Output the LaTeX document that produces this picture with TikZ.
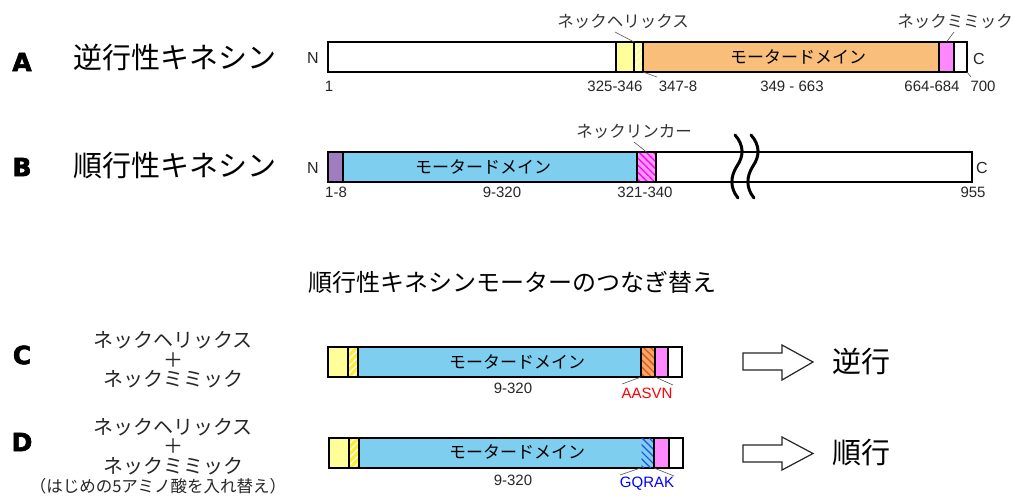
\documentclass[tikz,border=0pt]{standalone}
\usepackage{fontspec}
\setmainfont{Liberation Sans}
\newfontfamily\jp{Noto Sans CJK JP}
\newfontfamily\heavy[FakeBold=2.5]{DejaVu Sans}
\usetikzlibrary{patterns.meta}
\definecolor{cyel}{HTML}{FFFF99}
\definecolor{cyel2}{HTML}{FFEE33}
\definecolor{corange}{HTML}{F9BF7A}
\definecolor{corange2}{HTML}{F8A860}
\definecolor{cstripeo}{HTML}{E0502A}
\definecolor{cmag}{HTML}{FF88FF}
\definecolor{cmag2}{HTML}{FF99FF}
\definecolor{cblue}{HTML}{7ECEF0}
\definecolor{cstripeb}{HTML}{2050E0}
\definecolor{cpurple}{HTML}{A07CC0}
\definecolor{cleader}{HTML}{555555}
\tikzset{
  seg/.style={draw=black, line width=1.4pt, inner sep=0pt, outer sep=0pt, anchor=north west},
  hatched/.style n args={3}{fill=#1,
     postaction={pattern={Lines[angle=#3,distance=5pt,line width=1.3pt]}, pattern color=#2}},
  reborder/.style={postaction={draw=black, line width=1.4pt}},
  leader/.style={draw=cleader, line width=0.6pt},
  num/.style={font=\fontsize{15}{17}\selectfont, text=black!85, inner sep=0pt},
  endlab/.style={font=\fontsize{16}{18}\selectfont, text=black!85, inner sep=0pt},
  domtext/.style={font=\jp\fontsize{17}{19}\selectfont, inner sep=0pt},
  toplab/.style={font=\jp\fontsize{16.5}{18}\selectfont, text=black!80, inner sep=0pt},
  rowlab/.style={font=\heavy\bfseries\fontsize{25}{27}\selectfont, inner sep=0pt},
  rowtitle/.style={font=\jp\fontsize{29}{31}\selectfont, inner sep=0pt},
  sidelab/.style={font=\jp\fontsize{20}{22}\selectfont, text=black!85, inner sep=0pt},
  blockarrow/.style={draw=black!85, line width=1.2pt, fill=white, line join=miter},
  breakmark/.style={draw=black, line width=3pt, line cap=round}
}
% \mkseg{name}{x1}{x2}{y1}{y2}{style}
\newcommand\mkseg[6]{\node[seg, minimum width={(#3-#2)*1pt}, minimum height={(#5-#4)*1pt}, #6] (#1) at (#2,#4) {};}
\begin{document}
\begin{tikzpicture}[x=1pt,y=-1pt]
\useasboundingbox[fill=white] (0,0) rectangle (1014,496);

% ---------------- Row A ----------------
\node[rowlab] (labA) at (22,62) {A};
\node[rowtitle] (titA) at (175,58) {逆行性キネシン};
\mkseg{a0}{328}{616}{42}{72}{fill=white}
\mkseg{a1}{616}{634}{42}{72}{fill=cyel}
\mkseg{a2}{634}{643}{42}{72}{hatched={cyel}{white}{45}, reborder}
\mkseg{a3}{643}{939}{42}{72}{fill=corange}
\mkseg{a4}{939}{954}{42}{72}{fill=cmag}
\mkseg{a5}{954}{967}{42}{72}{fill=white}
\node[domtext] (domA) at (798,57) {モータードメイン};
\node[endlab] (nA) at (313,58) {N};
\node[endlab] (cA) at (979,59) {C};
\node[toplab] (nhA) at (623,21) {ネックヘリックス};
\node[toplab] (nmA) at (955,21) {ネックミミック};
\coordinate (nhAend) at (615,32);
\coordinate (nmAend) at (954,32);
\draw[leader] (nhAend) -- (a1.north east);
\draw[leader] (a4.north) -- (nmAend);
\node[num] (nA1) at (329,86) {1};
\node[num] (nA2) at (615,86) {325-346};
\node[num] (nA3) at (678,86) {347-8};
\node[num] (nA4) at (792,86) {349 - 663};
\node[num] (nA5) at (932,86) {664-684};
\node[num] (nA6) at (983,86) {700};
\coordinate (nA3end) at (657,77);
\coordinate (nA6end) at (971,77);
\draw[leader] (a2.south east) -- (nA3end);
\draw[leader] (a5.south east) -- (nA6end);

% ---------------- Row B ----------------
\node[rowlab] (labB) at (22,167) {B};
\node[rowtitle] (titB) at (175,166) {順行性キネシン};
\mkseg{b3}{656}{972}{152}{182}{fill=white}
\mkseg{b0}{328}{343}{152}{182}{fill=cpurple}
\mkseg{b1}{343}{637}{152}{182}{fill=cblue}
\mkseg{b2}{637}{656}{152}{182}{hatched={cmag2}{magenta}{-45}, reborder}
\node[domtext] (domB) at (483,167) {モータードメイン};
\node[endlab] (nB) at (313,168) {N};
\node[endlab] (cB) at (982,168) {C};
\node[toplab] (nlB) at (634,131) {ネックリンカー};
\coordinate (nlBend) at (634,142);
\draw[leader] (nlBend) -- (b2.north);
\node[num] (nB1) at (336,192) {1-8};
\node[num] (nB2) at (502,192) {9-320};
\node[num] (nB3) at (645,192) {321-340};
\node[num] (nB4) at (973,192) {955};
\draw[breakmark] (735,135) .. controls (744,145) and (744,156) .. (737,166)
                 .. controls (730,177) and (730,188) .. (738,198);
\draw[breakmark] (751,135) .. controls (760,145) and (760,156) .. (753,166)
                 .. controls (746,177) and (746,188) .. (754,198);

% ---------------- Title ----------------
\node[font=\jp\fontsize{24}{26}\selectfont, inner sep=0pt] (title) at (512,282) {順行性キネシンモーターのつなぎ替え};

% ---------------- Row C ----------------
\node[rowlab] (labC) at (22,355) {C};
\node[sidelab] (cs1) at (173,340) {ネックヘリックス};
\node[sidelab] (cs2) at (173,360) {＋};
\node[sidelab] (cs3) at (173,379) {ネックミミック};
\mkseg{c0}{328}{348}{347}{377}{fill=cyel}
\mkseg{c1}{348}{358}{347}{377}{hatched={cyel2}{white}{45}, reborder}
\mkseg{c2}{358}{641}{347}{377}{fill=cblue}
\mkseg{c3}{641}{655}{347}{377}{hatched={corange2}{cstripeo}{-45}, reborder}
\mkseg{c4}{655}{668}{347}{377}{fill=cmag}
\mkseg{c5}{668}{682}{347}{377}{fill=white}
\node[domtext] (domC) at (517,362) {モータードメイン};
\node[num] (nC1) at (513,388) {9-320};
\node[num, text=red] (seqC) at (647,393) {AASVN};
\coordinate (seqCl) at (622,384);
\coordinate (seqCr) at (673,385);
\draw[leader] (c3.south west) -- (seqCl);
\draw[leader] (c4.south west) -- (seqCr);
\draw[blockarrow] (743,353) -- (782,353) -- (782,345) -- (813,362) -- (782,380) -- (782,370) -- (743,370) -- cycle;
\node[rowtitle] (resC) at (861,362) {逆行};

% ---------------- Row D ----------------
\node[rowlab] (labD) at (22,442) {D};
\node[sidelab] (ds1) at (173,427) {ネックヘリックス};
\node[sidelab] (ds2) at (173,446) {＋};
\node[sidelab] (ds3) at (173,466) {ネックミミック};
\node[font=\jp\fontsize{16.5}{18}\selectfont, text=black!85, inner sep=0pt] (ds4) at (158,486) {（はじめの5アミノ酸を入れ替え）};
\mkseg{d0}{329}{349}{438}{468}{fill=cyel}
\mkseg{d1}{349}{359}{438}{468}{hatched={cyel2}{white}{45}, reborder}
\mkseg{d2}{359}{654}{438}{468}{fill=cblue}
\node[inner sep=0pt, outer sep=0pt, anchor=north west, minimum width=12pt, minimum height=29pt,
      pattern={Lines[angle=-45,distance=5pt,line width=1.2pt]}, pattern color=cstripeb] (d3) at (641.5,438.6) {};
\mkseg{d4}{654}{669}{438}{468}{fill=cmag}
\mkseg{d5}{669}{683}{438}{468}{fill=white}
\node[domtext] (domD) at (517,452) {モータードメイン};
\node[num] (nD1) at (513,480) {9-320};
\node[num, text=blue] (seqD) at (647,484) {GQRAK};
\coordinate (seqDl) at (620,475);
\coordinate (seqDr) at (674,476);
\draw[leader] (d3.south west) -- (seqDl);
\draw[leader] (d4.south west) -- (seqDr);
\draw[blockarrow] (743,445) -- (782,445) -- (782,437) -- (813,453.5) -- (782,470) -- (782,462) -- (743,462) -- cycle;
\node[rowtitle] (resD) at (861,452) {順行};
\end{tikzpicture}
\end{document}
